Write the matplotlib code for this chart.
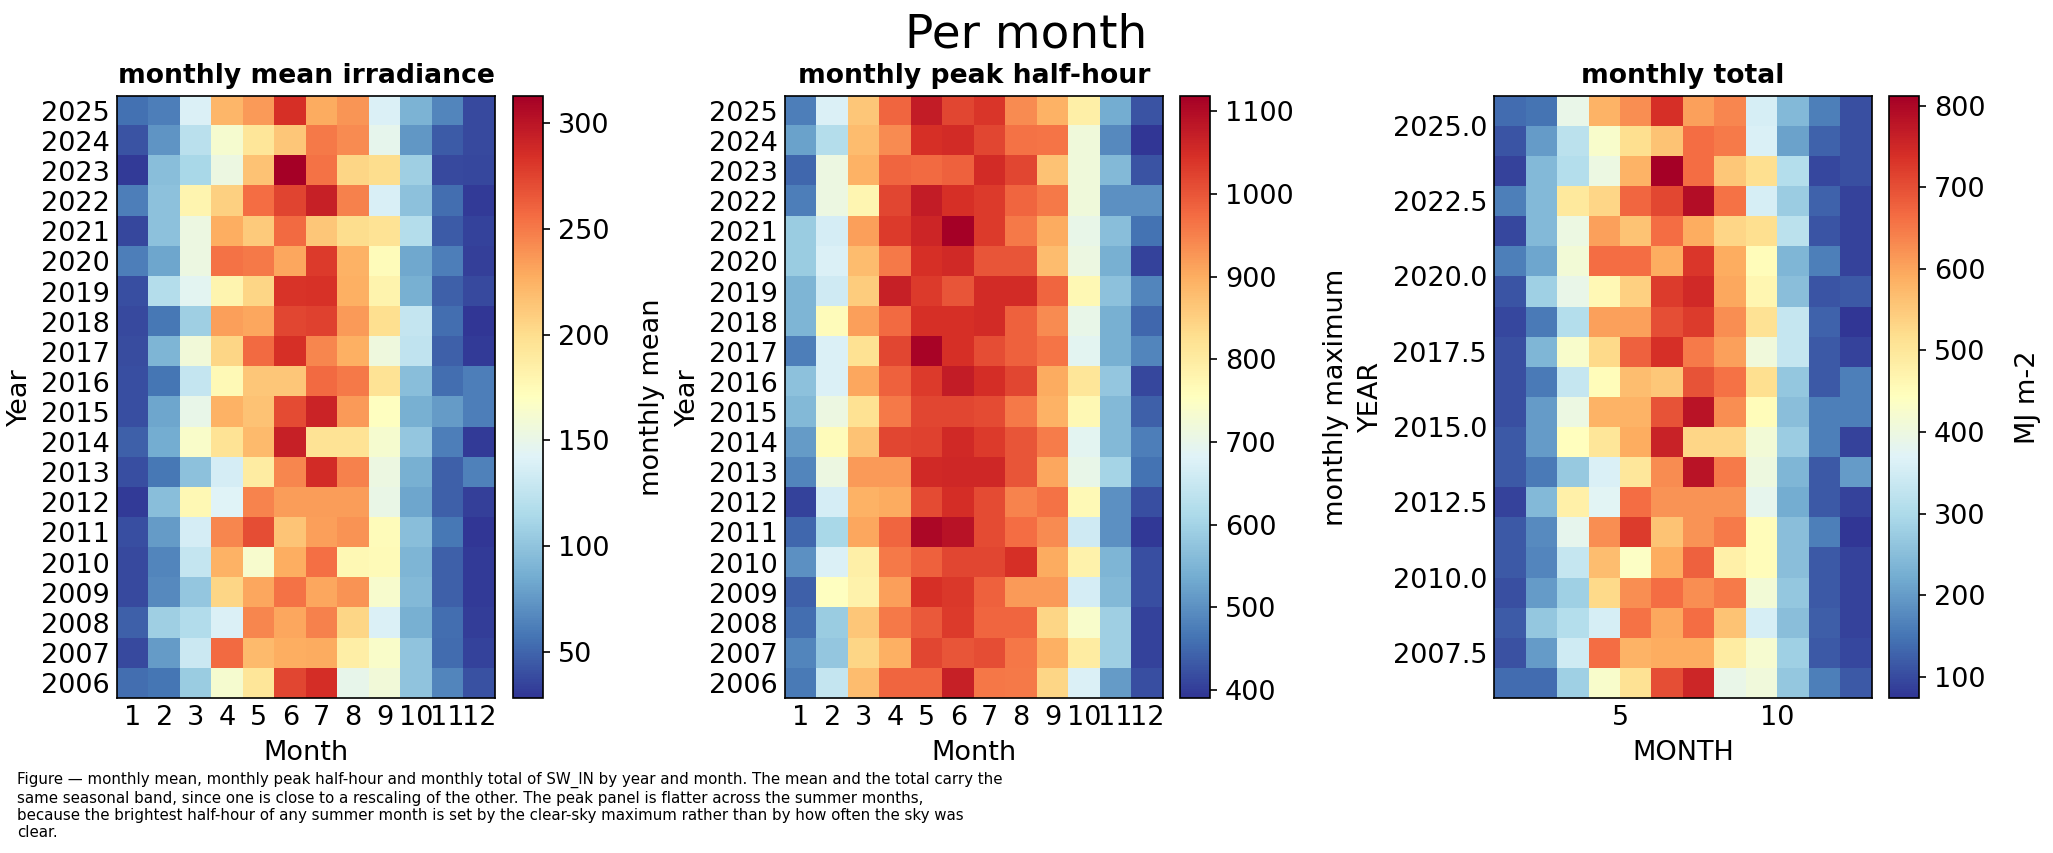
import numpy as np
import matplotlib
matplotlib.use("Agg")
import matplotlib.pyplot as plt

# years from top row to bottom row
years = [2025, 2024, 2023, 2022, 2021, 2020, 2019, 2018, 2017, 2016,
         2015, 2014, 2013, 2012, 2011, 2010, 2009, 2008, 2007, 2006]
months = [1, 2, 3, 4, 5, 6, 7, 8, 9, 10, 11, 12]

# monthly mean irradiance (W m-2)
mean_irr = [
    [55, 62, 140, 222, 236, 285, 228, 238, 140, 90, 65, 37],
    [42, 73, 122, 162, 193, 213, 250, 242, 148, 74, 45, 37],
    [31, 96, 113, 153, 216, 313, 253, 205, 200, 108, 37, 36],
    [62, 99, 180, 208, 256, 275, 293, 247, 139, 99, 54, 31],
    [36, 99, 153, 227, 211, 257, 213, 200, 196, 119, 45, 34],
    [62, 82, 153, 253, 250, 230, 279, 224, 173, 83, 62, 33],
    [40, 119, 145, 180, 205, 282, 284, 226, 181, 88, 48, 37],
    [37, 59, 108, 233, 230, 273, 276, 236, 199, 128, 54, 29],
    [39, 91, 158, 205, 257, 285, 244, 226, 156, 125, 47, 31],
    [40, 58, 128, 176, 213, 213, 257, 250, 196, 96, 54, 62],
    [40, 82, 150, 224, 216, 271, 291, 236, 170, 88, 76, 62],
    [48, 85, 165, 196, 220, 293, 196, 196, 162, 102, 62, 31],
    [40, 59, 99, 136, 188, 244, 287, 247, 153, 88, 47, 63],
    [31, 96, 177, 142, 246, 234, 234, 234, 151, 82, 47, 33],
    [40, 76, 136, 244, 270, 215, 233, 239, 173, 96, 59, 28],
    [37, 65, 128, 224, 163, 227, 254, 177, 174, 91, 47, 31],
    [37, 68, 102, 205, 230, 253, 230, 239, 163, 93, 48, 31],
    [47, 108, 118, 140, 244, 230, 247, 205, 140, 88, 54, 32],
    [37, 76, 131, 257, 220, 227, 228, 185, 166, 100, 53, 34],
    [54, 57, 105, 162, 193, 273, 286, 149, 158, 100, 65, 41],
]

# monthly peak half-hour (W m-2)
peak = [
    [478, 675, 864, 980, 1075, 1017, 1039, 937, 893, 791, 536, 427],
    [521, 623, 878, 937, 1046, 1053, 1017, 966, 964, 718, 492, 390],
    [448, 711, 893, 980, 975, 988, 1053, 1017, 871, 718, 558, 427],
    [478, 711, 776, 1017, 1075, 1046, 1031, 980, 959, 718, 500, 500],
    [587, 667, 915, 1031, 1061, 1119, 1031, 959, 900, 703, 565, 463],
    [587, 675, 878, 959, 1046, 1055, 1002, 1002, 878, 711, 543, 405],
    [550, 660, 856, 1068, 1031, 1002, 1053, 1053, 980, 769, 572, 485],
    [550, 762, 915, 975, 1046, 1046, 1053, 988, 937, 703, 543, 448],
    [478, 675, 820, 1017, 1112, 1046, 1010, 988, 964, 690, 543, 485],
    [572, 675, 907, 988, 1031, 1075, 1050, 1017, 900, 812, 580, 412],
    [558, 711, 820, 959, 1017, 1017, 1012, 959, 893, 769, 558, 441],
    [514, 762, 871, 1017, 1025, 1055, 1031, 1002, 955, 690, 558, 478],
    [485, 711, 922, 922, 1055, 1058, 1058, 1002, 907, 703, 601, 463],
    [405, 667, 893, 900, 1012, 1050, 1012, 946, 966, 766, 500, 420],
    [448, 609, 907, 980, 1105, 1090, 1012, 973, 937, 660, 500, 393],
    [500, 675, 791, 959, 988, 1017, 1017, 1046, 900, 783, 550, 420],
    [441, 754, 783, 915, 1046, 1035, 988, 922, 922, 667, 558, 420],
    [456, 587, 864, 959, 995, 1031, 980, 980, 842, 740, 595, 405],
    [485, 580, 842, 895, 1017, 1002, 1010, 961, 895, 798, 595, 405],
    [470, 645, 878, 980, 980, 1068, 962, 959, 842, 675, 514, 420],
]

# monthly total (MJ m-2)
total = [
    [140, 148, 390, 583, 627, 738, 605, 635, 354, 244, 163, 104],
    [111, 200, 318, 428, 517, 561, 664, 650, 362, 207, 126, 104],
    [89, 244, 310, 399, 583, 812, 664, 554, 517, 310, 96, 104],
    [163, 244, 495, 532, 672, 709, 790, 657, 354, 273, 126, 89],
    [96, 244, 399, 605, 561, 664, 591, 532, 517, 318, 111, 89],
    [163, 214, 413, 664, 664, 591, 731, 591, 450, 236, 163, 89],
    [111, 280, 391, 458, 539, 724, 746, 598, 465, 251, 111, 115],
    [96, 155, 310, 605, 605, 701, 724, 627, 510, 332, 126, 74],
    [104, 236, 428, 525, 679, 738, 650, 605, 406, 332, 115, 89],
    [104, 155, 332, 450, 568, 554, 694, 657, 517, 266, 115, 163],
    [104, 200, 399, 583, 583, 694, 782, 627, 450, 251, 163, 163],
    [115, 200, 443, 502, 591, 760, 532, 532, 413, 273, 163, 89],
    [115, 155, 270, 360, 500, 630, 782, 650, 400, 236, 115, 200],
    [89, 244, 480, 376, 664, 620, 620, 620, 384, 222, 115, 89],
    [115, 177, 384, 627, 724, 561, 620, 650, 450, 251, 163, 75],
    [115, 170, 332, 568, 435, 591, 679, 480, 450, 251, 115, 89],
    [104, 200, 280, 525, 627, 664, 627, 650, 413, 266, 115, 89],
    [118, 266, 310, 354, 657, 598, 664, 561, 354, 251, 122, 89],
    [108, 200, 347, 664, 583, 591, 591, 487, 421, 280, 115, 96],
    [140, 140, 280, 428, 510, 701, 752, 391, 406, 266, 163, 115],
]

caption = ("Figure \u2014 monthly mean, monthly peak half-hour and monthly total of SW_IN by year and month. "
           "The mean and the total carry the\n"
           "same seasonal band, since one is close to a rescaling of the other. "
           "The peak panel is flatter across the summer months,\n"
           "because the brightest half-hour of any summer month is set by the clear-sky maximum "
           "rather than by how often the sky was\n"
           "clear.")

FS = 13
TFS = 12.8
W, H = 2053, 853
fig = plt.figure(figsize=(W / 150, H / 150), dpi=150)

ax_w, ax_h, ax_b = 377.2 / W, 602.2 / H, 155 / H
cb_w = 30 / W
lefts = [117.4 / W, 785.4 / W, 1494.3 / W]
cb_lefts = [513.4 / W, 1180.4 / W, 1889.4 / W]

panels = [
    (mean_irr, "monthly mean irradiance", "monthly mean"),
    (peak, "monthly peak half-hour", "monthly maximum"),
]

for k, (vals, title, cblabel) in enumerate(panels):
    ax = fig.add_axes([lefts[k], ax_b, ax_w, ax_h])
    im = ax.imshow(np.array(vals), cmap="RdYlBu_r", aspect="auto")
    ax.set_xticks(range(len(months)))
    ax.set_xticklabels(months)
    ax.set_yticks(range(len(years)))
    ax.set_yticklabels(years)
    ax.tick_params(length=0, labelsize=FS)
    ax.set_xlabel("Month", fontsize=FS)
    ax.set_ylabel("Year", fontsize=FS)
    ax.set_title(title, fontsize=TFS, fontweight="bold")
    cax = fig.add_axes([cb_lefts[k], ax_b, cb_w, ax_h])
    cb = fig.colorbar(im, cax=cax)
    cb.ax.tick_params(labelsize=FS)
    cb.set_label(cblabel, fontsize=FS, labelpad=14)

# third panel: numeric axes like a pcolormesh of YEAR x MONTH
ax = fig.add_axes([lefts[2], ax_b, ax_w, ax_h])
x_edges = np.append(months, months[-1] + 1)
y_edges = np.append(np.array(years) + 1, years[-1])
mesh = ax.pcolormesh(x_edges, y_edges, np.array(total), cmap="RdYlBu_r")
ax.set_xticks([5, 10])
ax.set_yticks(np.arange(2007.5, 2026, 2.5))
ax.tick_params(length=0, labelsize=FS)
ax.set_xlabel("MONTH", fontsize=FS)
ax.set_ylabel("YEAR", fontsize=FS)
ax.set_title("monthly total", fontsize=TFS, fontweight="bold")
cax = fig.add_axes([cb_lefts[2], ax_b, cb_w, ax_h])
cb = fig.colorbar(mesh, cax=cax)
cb.ax.tick_params(labelsize=FS)
cb.set_label("MJ m-2", fontsize=FS, labelpad=14)

fig.suptitle("Per month", fontsize=22.5, y=0.985)
fig.text(0.0083, 1 - 772 / H, caption, fontsize=7.2, ha="left", va="top")

fig.savefig("out.png", dpi=150)
